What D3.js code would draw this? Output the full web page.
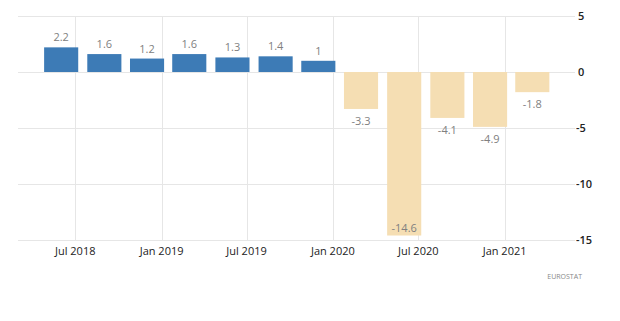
<!DOCTYPE html>
<html>
<head>
<meta charset="utf-8">
<script src="https://cdn.jsdelivr.net/npm/d3@7"></script>
<style>
  body { margin: 0; background: #fff; }
  svg { display: block; font-family: "Open Sans", "Noto Sans", sans-serif; }
</style>
</head>
<body>
<svg id="chart" width="620" height="321"></svg>
<script>
// quarterly GDP growth, year on year (%)
const quarters = ['2018-06-01', '2018-09-01', '2018-12-01', '2019-03-01', '2019-06-01', '2019-09-01',
  '2019-12-01', '2020-03-01', '2020-06-01', '2020-09-01', '2020-12-01', '2021-03-01'];
const growth = [2.2, 1.6, 1.2, 1.6, 1.3, 1.4, 1, -3.3, -14.6, -4.1, -4.9, -1.8];
const yTicks = [5, 0, -5, -10, -15];
const xTickDates = ['2018-07-01', '2019-01-01', '2019-07-01', '2020-01-01', '2020-07-01', '2021-01-01'];
const source = 'EUROSTAT';

const parse = d3.utcParse('%Y-%m-%d');
const data = quarters.map((q, i) => ({ date: parse(q), value: growth[i] }));

const plot = { left: 18, right: 575, top: 16, bottom: 240 };

const x = d3.scaleUtc()
  .domain([parse('2018-03-01'), parse('2021-05-31')])
  .range([plot.left, plot.right]);
const y = d3.scaleLinear().domain([-15, 5]).range([plot.bottom, plot.top]);

const svg = d3.select('#chart');

// grid
svg.append('g')
  .selectAll('line')
  .data(yTicks)
  .join('line')
  .attr('x1', plot.left)
  .attr('x2', plot.right)
  .attr('y1', d => y(d) + 0.5)
  .attr('y2', d => y(d) + 0.5)
  .attr('stroke', '#e6e6e6');

svg.append('g')
  .selectAll('line')
  .data(xTickDates.map(parse))
  .join('line')
  .attr('x1', d => Math.round(x(d)) + 0.5)
  .attr('x2', d => Math.round(x(d)) + 0.5)
  .attr('y1', plot.top)
  .attr('y2', plot.bottom + 1)
  .attr('stroke', '#e6e6e6');

// bars
const step = x(data[1].date) - x(data[0].date);
const barW = step * 0.79;

svg.append('g')
  .selectAll('rect')
  .data(data)
  .join('rect')
  .attr('x', d => x(d.date) - barW / 2)
  .attr('width', barW)
  .attr('y', d => y(Math.max(0, d.value)))
  .attr('height', d => Math.abs(y(d.value) - y(0)))
  .attr('fill', d => (d.value >= 0 ? '#3d7bb6' : '#f5deb3'));

// value labels
svg.append('g')
  .selectAll('text')
  .data(data)
  .join('text')
  .attr('x', d => x(d.date))
  .attr('y', d => {
    if (d.value >= 0) return y(d.value) - 6;
    if (y(d.value) + 14 > plot.bottom) return y(d.value) - 4;
    return y(d.value) + 16;
  })
  .attr('text-anchor', 'middle')
  .attr('font-size', 11)
  .attr('fill', '#808080')
  .text(d => d.value);

// y axis on the right
svg.append('g')
  .selectAll('text')
  .data(yTicks)
  .join('text')
  .attr('x', d => (d < 0 ? plot.right + 1 : plot.right + 3))
  .attr('y', d => y(d) + 4)
  .attr('font-size', 11)
  .attr('font-weight', 600)
  .attr('fill', '#222')
  .text(d => (d < 0 ? '-' + Math.abs(d) : d));

// x axis labels
const fmt = d3.utcFormat('%b %Y');
svg.append('g')
  .selectAll('text')
  .data(xTickDates.map(parse))
  .join('text')
  .attr('x', d => x(d))
  .attr('y', plot.bottom + 15)
  .attr('text-anchor', 'middle')
  .attr('font-size', 11)
  .attr('fill', '#222')
  .text(fmt);

svg.append('text')
  .attr('x', 582)
  .attr('y', 279)
  .attr('text-anchor', 'end')
  .attr('font-size', 7)
  .attr('fill', '#888')
  .text(source);
</script>
</body>
</html>
